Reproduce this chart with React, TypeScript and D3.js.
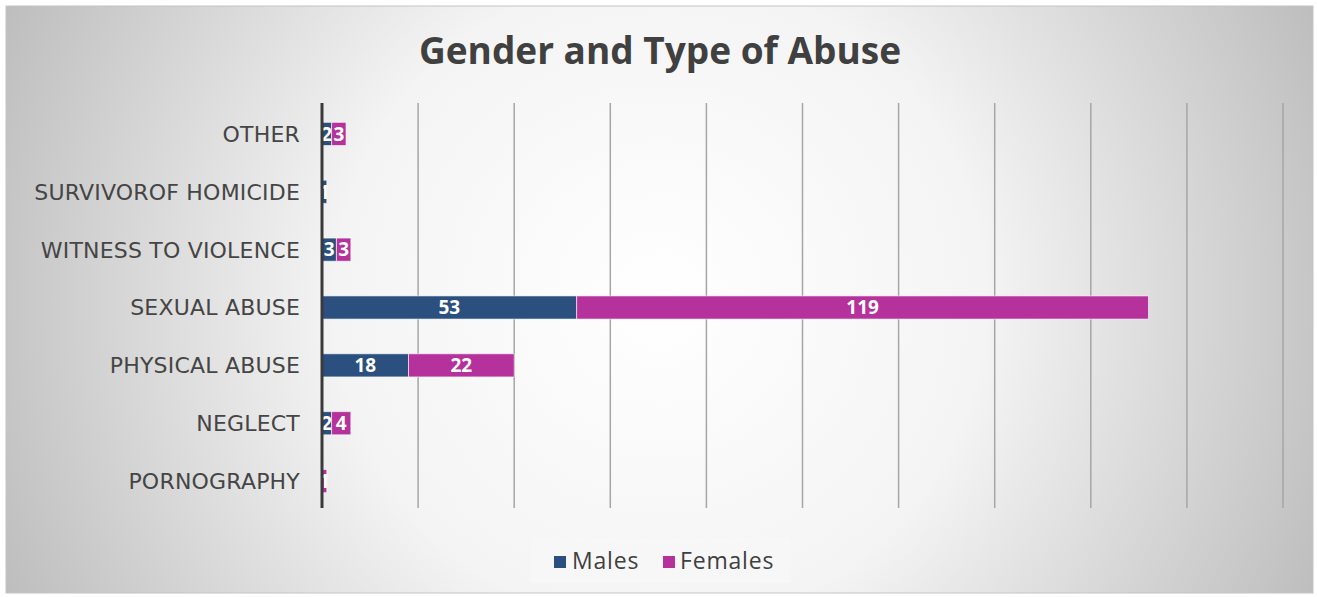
import React, { useEffect, useRef } from "react"
import * as d3 from "d3"

// categories top to bottom
const categories = [
  "OTHER",
  "SURVIVOROF HOMICIDE",
  "WITNESS TO VIOLENCE",
  "SEXUAL ABUSE",
  "PHYSICAL ABUSE",
  "NEGLECT",
  "PORNOGRAPHY",
]
const males = [2, 1, 3, 53, 18, 2, 0]
const females = [3, 0, 3, 119, 22, 4, 1]
const seriesNames = ["Males", "Females"]
const xTicks = [0, 20, 40, 60, 80, 100, 120, 140, 160, 180, 200]

const colors = ["#2b4f7f", "#b5319b"]

export default function App() {
  const ref = useRef<SVGSVGElement>(null)

  useEffect(() => {
    const width = 1317
    const height = 597
    const svg = d3.select(ref.current)
    svg.selectAll("*").remove()
    svg.attr("width", width).attr("height", height)

    const defs = svg.append("defs")
    const grad = defs
      .append("radialGradient")
      .attr("id", "bg")
      .attr("gradientUnits", "userSpaceOnUse")
      .attr("cx", 660)
      .attr("cy", 300)
      .attr("r", 720)
    grad.append("stop").attr("offset", "0%").attr("stop-color", "#ffffff")
    grad.append("stop").attr("offset", "45%").attr("stop-color", "#f4f4f4")
    grad.append("stop").attr("offset", "100%").attr("stop-color", "#bdbdbd")

    // chart area
    svg
      .append("rect")
      .attr("x", 6)
      .attr("y", 6)
      .attr("width", 1307)
      .attr("height", 587)
      .attr("fill", "url(#bg)")
      .attr("stroke", "#c4c4c4")
      .attr("stroke-width", 1)

    const plot = { left: 322, right: 1283, top: 103, bottom: 508 }

    const x = d3.scaleLinear().domain([0, 200]).range([plot.left, plot.right])
    const y = d3
      .scaleBand()
      .domain(categories)
      .range([plot.top + 2, plot.bottom + 2])
      .paddingInner(0.6)
      .paddingOuter(0.3)

    // gridlines
    svg
      .append("g")
      .selectAll("line")
      .data(xTicks.slice(1))
      .enter()
      .append("line")
      .attr("x1", d => x(d))
      .attr("x2", d => x(d))
      .attr("y1", plot.top)
      .attr("y2", plot.bottom)
      .attr("stroke", "#a6a6a6")
      .attr("stroke-width", 1.5)

    // category labels
    svg
      .append("g")
      .selectAll("text")
      .data(categories)
      .enter()
      .append("text")
      .attr("x", 300)
      .attr("y", d => (y(d) as number) + y.bandwidth() / 2)
      .attr("dy", "0.36em")
      .attr("text-anchor", "end")
      .attr("font-family", "'DejaVu Sans', sans-serif")
      .attr("font-size", 22)
      .attr("letter-spacing", 0.2)
      .attr("fill", "#454545")
      .text(d => d)

    // stacked bars
    const rows = categories.map((c, i) => ({ cat: c, Males: males[i], Females: females[i] }))
    const stack = d3.stack<any>().keys(seriesNames)(rows)

    stack.forEach((layer, si) => {
      const g = svg.append("g")
      g.selectAll("rect")
        .data(layer)
        .enter()
        .filter(d => d[1] - d[0] > 0)
        .append("rect")
        .attr("x", d => x(d[0]))
        .attr("y", d => y(d.data.cat) as number)
        .attr("width", d => x(d[1]) - x(d[0]))
        .attr("height", y.bandwidth())
        .attr("fill", colors[si])
        .attr("stroke", "#ffffff")
        .attr("stroke-opacity", 0.6)
        .attr("stroke-width", 1)

      g.selectAll("text")
        .data(layer)
        .enter()
        .filter(d => d[1] - d[0] > 0)
        .append("text")
        .attr("x", d => (x(d[0]) + x(d[1])) / 2)
        .attr("y", d => (y(d.data.cat) as number) + y.bandwidth() / 2)
        .attr("dy", "0.36em")
        .attr("text-anchor", "middle")
        .attr("font-family", "'Open Sans', sans-serif")
        .attr("font-weight", "bold")
        .attr("font-size", 19)
        .attr("fill", "#ffffff")
        .text(d => d[1] - d[0])
    })

    // axis line
    svg
      .append("line")
      .attr("x1", x(0))
      .attr("x2", x(0))
      .attr("y1", plot.top)
      .attr("y2", plot.bottom)
      .attr("stroke", "#3a3a3a")
      .attr("stroke-width", 3)

    // title
    svg
      .append("text")
      .attr("x", 660)
      .attr("y", 64)
      .attr("text-anchor", "middle")
      .attr("font-family", "'Open Sans', sans-serif")
      .attr("font-weight", "bold")
      .attr("font-size", 37)
      .attr("fill", "#404040")
      .text("Gender and Type of Abuse")

    // legend
    const lg = svg.append("g")
    lg.append("rect")
      .attr("x", 531)
      .attr("y", 538)
      .attr("width", 259)
      .attr("height", 45)
      .attr("fill", "#f7f7f7")
      .attr("opacity", 0.9)
    const items = [
      { name: seriesNames[0], sx: 554, tx: 572 },
      { name: seriesNames[1], sx: 663, tx: 680 },
    ]
    items.forEach((it, i) => {
      lg.append("rect")
        .attr("x", it.sx)
        .attr("y", 556)
        .attr("width", 12)
        .attr("height", 12)
        .attr("fill", colors[i])
      lg.append("text")
        .attr("x", it.tx)
        .attr("y", 561)
        .attr("dy", "0.35em")
        .attr("font-family", "'Open Sans', sans-serif")
        .attr("font-size", 23)
        .attr("letter-spacing", 0.8)
        .attr("fill", "#404040")
        .text(it.name)
    })
  }, [])

  return <svg ref={ref} style={{ position: "absolute", left: 0, top: 0 }}></svg>
}
